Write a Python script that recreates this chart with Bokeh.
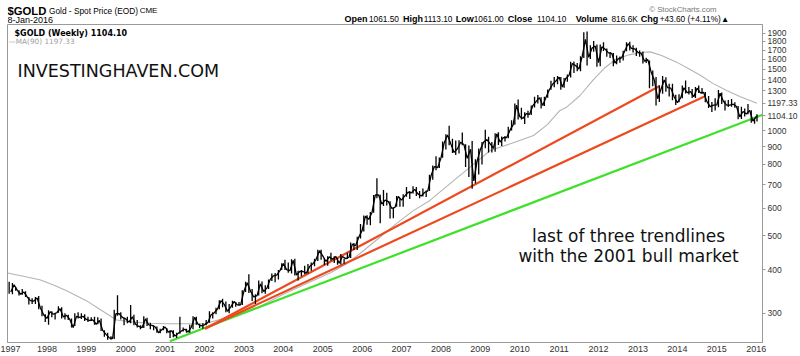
from bokeh.plotting import figure
from bokeh.models import Range1d, FixedTicker, Label
from bokeh.layouts import column
from bokeh.core.properties import value
from bokeh.embed import file_html
from bokeh.resources import INLINE

# ---------------- data ----------------
first_year = 1997
month_close = [
    345, 362, 349, 340, 345, 334, 326, 325, 332, 311, 297, 290,
    303, 298, 301, 309, 293, 296, 288, 273, 294, 292, 294, 288,
    286, 287, 279, 286, 268, 261, 255, 254, 299, 299, 292, 289,
    283, 293, 279, 275, 273, 289, 278, 277, 274, 264, 269, 274,
    265, 267, 258, 263, 267, 270, 265, 274, 292, 279, 276, 278,
    282, 297, 301, 309, 326, 318, 304, 313, 324, 317, 317, 347,
    367, 347, 334, 337, 364, 346, 354, 375, 384, 386, 398, 416,
    400, 397, 425, 386, 395, 395, 391, 408, 416, 428, 453, 438,
    422, 435, 428, 436, 417, 436, 430, 434, 473, 468, 496, 518,
    569, 557, 583, 654, 655, 616, 632, 626, 599, 603, 648, 632,
    650, 666, 663, 679, 659, 650, 665, 672, 744, 789, 783, 834,
    923, 971, 916, 866, 887, 926, 912, 833, 884, 718, 818, 882,
    927, 942, 916, 890, 979, 927, 955, 955, 1001, 1040, 1182, 1096,
    1083, 1118, 1113, 1179, 1212, 1242, 1180, 1246, 1308, 1357, 1386, 1421,
    1332, 1410, 1439, 1556, 1536, 1500, 1628, 1825, 1620, 1722, 1746, 1564,
    1737, 1710, 1669, 1664, 1561, 1604, 1614, 1692, 1773, 1719, 1713, 1675,
    1663, 1580, 1597, 1472, 1393, 1234, 1313, 1396, 1328, 1323, 1250, 1202,
    1240, 1326, 1284, 1292, 1250, 1322, 1282, 1286, 1210, 1171, 1182, 1184,
    1279, 1213, 1183, 1183, 1190, 1172, 1095, 1134, 1115, 1142, 1065, 1061,
]
month_high = [
    369, 366, 356, 349, 352, 347, 334, 331, 334, 336, 315, 298,
    306, 304, 301, 314, 312, 300, 297, 290, 300, 302, 300, 298,
    293, 292, 293, 292, 290, 268, 264, 258, 307, 338, 302, 291,
    293, 317, 297, 287, 277, 294, 291, 282, 277, 275, 271, 276,
    272, 268, 268, 264, 293, 273, 271, 278, 294, 293, 280, 281,
    287, 304, 302, 311, 327, 330, 324, 319, 326, 323, 323, 349,
    369, 388, 352, 340, 372, 370, 361, 375, 390, 391, 399, 417,
    427, 419, 428, 430, 397, 399, 410, 415, 419, 430, 456, 456,
    431, 437, 447, 437, 432, 443, 430, 447, 478, 477, 497, 540,
    571, 572, 585, 654, 730, 655, 676, 664, 628, 600, 650, 641,
    657, 689, 671, 693, 690, 672, 683, 674, 748, 795, 845, 838,
    931, 976, 1033, 947, 936, 938, 988, 914, 906, 934, 828, 888,
    928, 1006, 960, 928, 983, 989, 962, 965, 1025, 1070, 1196, 1227,
    1163, 1128, 1140, 1180, 1249, 1265, 1245, 1250, 1310, 1388, 1424, 1432,
    1423, 1415, 1447, 1575, 1577, 1560, 1632, 1913, 1921, 1754, 1804, 1764,
    1764, 1791, 1719, 1678, 1668, 1640, 1630, 1692, 1790, 1796, 1754, 1727,
    1696, 1684, 1617, 1587, 1487, 1424, 1348, 1434, 1421, 1362, 1361, 1267,
    1270, 1345, 1392, 1332, 1315, 1332, 1345, 1323, 1290, 1255, 1208, 1238,
    1307, 1286, 1220, 1224, 1232, 1205, 1175, 1170, 1157, 1191, 1143, 1088,
]
month_low = [
    341, 340, 348, 337, 339, 334, 318, 319, 319, 308, 294, 283,
    278, 292, 288, 301, 290, 288, 287, 273, 276, 290, 289, 285,
    283, 285, 278, 279, 267, 257, 252, 252, 253, 295, 288, 277,
    281, 281, 277, 273, 270, 272, 276, 270, 268, 264, 263, 268,
    263, 255, 256, 255, 262, 266, 264, 264, 270, 278, 272, 271,
    277, 282, 290, 298, 308, 312, 302, 300, 311, 313, 315, 317,
    345, 343, 325, 319, 337, 342, 341, 352, 371, 368, 375, 399,
    399, 392, 390, 385, 372, 383, 388, 390, 397, 409, 423, 427,
    412, 410, 424, 418, 413, 414, 416, 430, 432, 455, 455, 491,
    514, 538, 536, 582, 640, 543, 608, 610, 560, 561, 605, 605,
    605, 647, 637, 661, 650, 640, 648, 645, 672, 723, 770, 782,
    836, 883, 908, 863, 851, 860, 908, 786, 736, 681, 705, 749,
    800, 890, 865, 865, 870, 910, 904, 930, 950, 1000, 1040, 1075,
    1075, 1044, 1088, 1108, 1164, 1196, 1157, 1176, 1242, 1308, 1330, 1357,
    1308, 1326, 1380, 1418, 1462, 1478, 1478, 1614, 1535, 1604, 1680, 1523,
    1527, 1689, 1627, 1613, 1527, 1548, 1564, 1588, 1687, 1694, 1672, 1635,
    1626, 1555, 1562, 1321, 1339, 1180, 1207, 1275, 1292, 1251, 1221, 1183,
    1205, 1238, 1277, 1268, 1240, 1240, 1281, 1273, 1205, 1161, 1131, 1142,
    1167, 1191, 1142, 1169, 1170, 1162, 1077, 1080, 1098, 1113, 1053, 1046,
]
# last weekly bar (week ending 8-Jan-2016)
last_x = 2016.02
last_open, last_high, last_low, last_close = 1061.50, 1113.10, 1061.00, 1104.10
last_ma = 1197.33

ma_x = [1997.0, 1997.4, 1997.82, 1998.2, 1998.5, 1999.0, 1999.4, 1999.77, 2000.2, 2000.62,
        2001.0, 2001.46, 2002.0, 2002.5, 2003.0, 2003.5, 2004.0, 2004.76, 2005.2, 2005.61,
        2006.0, 2006.45, 2006.9, 2007.3, 2007.72, 2008.2, 2008.74, 2009.25, 2009.8, 2010.35,
        2010.7, 2011.02, 2011.19, 2011.53, 2011.87, 2012.15, 2012.46, 2012.8, 2013.14, 2013.31,
        2013.6, 2013.98, 2014.3, 2014.58, 2014.9, 2015.25, 2015.6, 2016.02]
ma_90 = [391, 383, 374, 360, 348, 326, 305, 287, 283, 281,
         280, 280, 280, 290, 300, 318, 340, 372, 392, 416,
         450, 495, 545, 590, 631, 700, 786, 877, 920, 968,
         1040, 1142, 1167, 1260, 1400, 1510, 1605, 1650, 1676, 1680,
         1640, 1570, 1500, 1440, 1365, 1302, 1250, 1197.33]

trend_x0 = [2001.12, 2002.01, 2002.01]
trend_y0 = [249.5, 271, 271]
trend_x1 = [2016.18, 2013.54, 2014.70]
trend_y1 = [1112, 1340, 1254]
trend_colors = ["#3fe02a", "#ec4a1e", "#ec4a1e"]

year_ticks = list(range(1997, 2017))
price_ticks = [300, 400, 500, 600, 700, 800, 900, 1000, 1300, 1400, 1500, 1600, 1700, 1800, 1900]

# ---------------- header strip ----------------
HEAD_H = 24
head = figure(width=800, height=HEAD_H, x_range=Range1d(0, 800), y_range=Range1d(HEAD_H, 0),
              output_backend="svg", toolbar_location=None, min_border=0,
              x_axis_type=None, y_axis_type=None)
head.outline_line_color = None
head.grid.visible = False
head.background_fill_color = "white"
head.border_fill_color = "white"


def htext(t, x, y, size, bold=False, color="#000000", font="Liberation Sans"):
    head.text(x=[x], y=[y], text=[t], text_font=value(font), text_font_size=f"{size}px",
              text_font_style="bold" if bold else "normal", text_color=color,
              text_baseline="alphabetic", text_align="left")


htext("$GOLD", 0, 10.5, 11.3, bold=True)
htext("Gold - Spot Price (EOD)", 44, 10, 8.3)
htext("CME", 140, 10, 8)
htext("8-Jan-2016", 0, 19.5, 9)
htext("\u00a9 StockCharts.com", 680, 8.5, 7.8, color="#777777")
row = [("Open", 357, True), ("1061.50", 383, False), ("High", 419, True), ("1113.10", 441, False),
       ("Low", 475, True), ("1061.00", 494, False), ("Close", 530, True), ("1104.10", 561, False),
       ("Volume", 602, True), ("816.6K", 640, False), ("Chg", 671, True),
       ("+43.60 (+4.11%)", 691, False), ("\u25b2", 756, False)]
for t, x, b in row:
    htext(t, x, 18.5, 9 if b else 8.3, bold=b)

# ---------------- main chart ----------------
FL, FR, FB = 7, 764, 342
H = 356 - HEAD_H

p = figure(width=800, height=H, x_range=Range1d(1997.0, 2016.16),
           y_range=Range1d(247.4, 2012), y_axis_type="log", y_axis_location="right",
           output_backend="svg", toolbar_location=None,
           min_border_left=FL, min_border_right=800 - FR, min_border_top=0,
           min_border_bottom=356 - FB)
p.background_fill_color = "white"
p.border_fill_color = "white"
p.outline_line_color = "#9a9a9a"
p.grid.visible = False

ax = p.xaxis[0]
ax.ticker = FixedTicker(ticks=year_ticks)
ax.major_label_overrides = {y: str(y) for y in year_ticks}
ax.major_tick_out = 0
ax.major_tick_in = 0
ax.minor_tick_out = 0
ax.minor_tick_in = 0
ax.major_label_standoff = 3
ax.axis_line_color = "#9a9a9a"
ax.major_label_text_font = "Liberation Sans"
ax.major_label_text_font_size = "9px"
ax.major_label_text_color = "#333333"

ay = p.yaxis[0]
ay_ticks = price_ticks + [last_close, last_ma]
ay.ticker = FixedTicker(ticks=ay_ticks)
overrides = {v: str(v) for v in price_ticks}
overrides[last_close] = "1104.10"
overrides[last_ma] = "1197.33"
ay.major_label_overrides = overrides
ay.major_tick_out = 3
ay.major_tick_in = 0
ay.minor_tick_out = 0
ay.minor_tick_in = 0
ay.major_tick_line_color = "#9a9a9a"
ay.major_label_standoff = 2
ay.axis_line_color = "#9a9a9a"
ay.major_label_text_font = "Liberation Sans"
ay.major_label_text_font_size = "8.5px"
ay.major_label_text_color = "#333333"

# price bars
mx = [first_year + i // 12 + (i % 12 + 0.5) / 12 for i in range(len(month_close))]
cx = [first_year + i // 12 + (i % 12 + 1.0) / 12 for i in range(len(month_close))]
p.line(ma_x, ma_90, line_color="#b4b4b4", line_width=1.1)
for x0, y0, x1, y1, c in zip(trend_x0, trend_y0, trend_x1, trend_y1, trend_colors):
    p.line([x0, x1], [y0, y1], line_color=c, line_width=2.2)
p.segment(x0=mx + [last_x], y0=month_low + [last_low], x1=mx + [last_x],
          y1=month_high + [last_high], line_color="black", line_width=1.3)
p.line(cx[:-1] + [last_x], month_close[:-1] + [last_close], line_color="black", line_width=1.3)


def lab(text, x, y, size, color="#000000", bold=False, font="Liberation Sans", align="left",
        baseline="alphabetic", **kw):
    p.add_layout(Label(x=x - FL, y=FB - y, x_units="screen", y_units="screen", text=text,
                       text_font=font, text_font_size=f"{size}px", text_color=color,
                       text_font_style="bold" if bold else "normal", text_align=align,
                       text_baseline=baseline, **kw))


# legend inside chart
lab("$GOLD (Weekly) 1104.10", 14, 33, 8, bold=True, font="DejaVu Sans")
lab("\u2014MA(90) 1197.33", 8, 40.5, 7.3, color="#a0a0a0", font="DejaVu Sans")

# annotations
lab("INVESTINGHAVEN.COM", 17, 70, 17.5, color="#111111", font="DejaVu Sans")
lab("last of three trendlines", 628, 235, 17, color="#111111", font="DejaVu Sans", align="center")
lab("with the 2001 bull market", 628, 255, 17, color="#111111", font="DejaVu Sans", align="center")

layout = column(head, p, spacing=0)
open("out.html", "w").write(file_html(layout, INLINE))
